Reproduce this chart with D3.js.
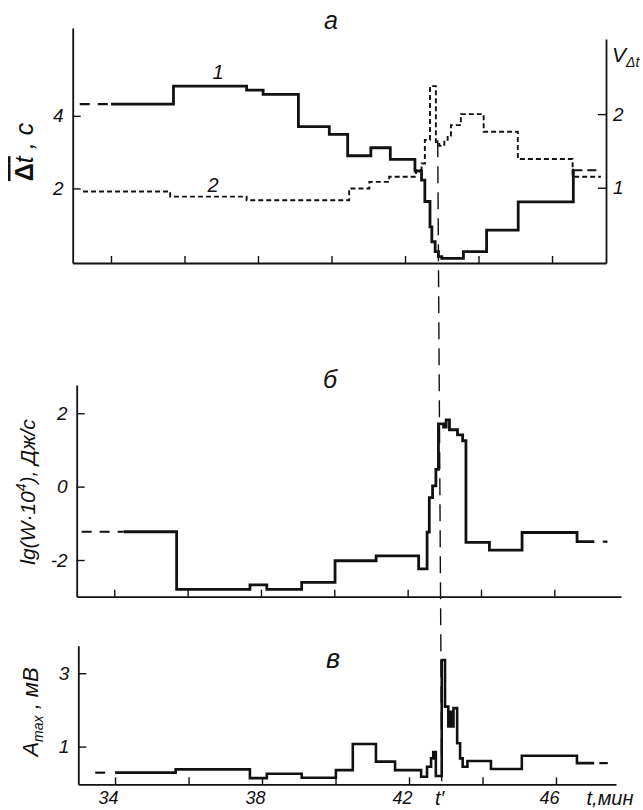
<!DOCTYPE html>
<html>
<head>
<meta charset="utf-8">
<script src="https://cdn.jsdelivr.net/npm/d3@7"></script>
<style>
  html, body { margin: 0; padding: 0; background: #fff; }
  svg { display: block; }
  text { font-family: "Liberation Sans", Arial, sans-serif; fill: #111; }
</style>
</head>
<body>
<script>
// ---------------- DATA ----------------
const xTicks = [34, 36, 38, 40, 42, 44, 46];
const xTickLabels = { 34: "34", 38: "38", 42: "42", 46: "46" };
const tPrime = 42.89;

// panel a, curve 1 : mean Δt, s (left axis), step starts
const dtTimes  = [34.0, 35.70, 37.69, 38.14, 39.10, 39.94, 40.44, 41.07, 41.60, 42.27, 42.45, 42.54, 42.68, 42.73, 42.82, 42.91, 43.00, 43.59, 44.22, 45.08, 46.58];
const dtValues = [4.32, 4.82, 4.71, 4.59, 3.70, 3.49, 2.90, 3.12, 2.80, 2.48, 2.23, 1.64, 0.94, 0.53, 0.26, 0.12, 0.07, 0.26, 0.85, 1.63, 2.50];
const dtLead = [33.15, 34.0];
const dtTail = [46.58, 47.33];

// panel a, curve 2 : V_Δt (right axis)
const vTimes  = [33.24, 35.61, 37.69, 40.48, 41.03, 41.57, 42.30, 42.45, 42.54, 42.68, 42.84, 42.93, 43.07, 43.16, 43.25, 43.52, 44.14, 45.07, 46.56];
const vValues = [0.95, 0.88, 0.83, 0.99, 1.08, 1.15, 1.24, 1.33, 1.65, 2.38, 1.62, 1.57, 1.65, 1.71, 1.85, 2.00, 1.76, 1.39, 1.15];
const vEnd = 47.33;

// panel б : lg(W·10^4), J/s
const wTimes  = [34.25, 35.70, 37.70, 38.16, 39.11, 40.02, 41.14, 42.30, 42.53, 42.59, 42.68, 42.77, 42.84, 42.98, 43.05, 43.14, 43.36, 43.50, 43.59, 44.23, 45.12, 46.62];
const wValues = [-1.23, -2.80, -2.68, -2.80, -2.61, -2.02, -1.89, -2.24, -1.24, -0.30, 0.02, 0.47, 1.71, 1.62, 1.82, 1.55, 1.41, 1.25, -1.52, -1.73, -1.25, -1.50];
const wEnd = 47.09;
const wLead = [33.11, 34.25];
const wTail = [47.32, 47.45];

// panel в : A_max, mV
const aTimes  = [34.0, 35.65, 37.67, 38.13, 39.08, 40.01, 40.47, 41.10, 41.62, 42.33, 42.49, 42.60, 42.66, 42.73, 42.89, 42.98, 43.07, 43.10, 43.13, 43.16, 43.19, 43.21, 43.31, 43.39, 43.46, 43.59, 44.23, 45.07, 46.57];
const aValues = [0.29, 0.38, 0.14, 0.26, 0.15, 0.36, 1.07, 0.59, 0.36, 0.18, 0.45, 0.68, 0.85, 0.20, 3.36, 2.09, 1.55, 1.95, 1.55, 1.95, 1.55, 2.05, 1.09, 0.68, 0.45, 0.61, 0.39, 0.75, 0.55];
const aEnd = 47.04;
const aLead = [33.46, 33.73];
const aTail = [47.18, 47.41];

const dtTicks = [2, 4];
const vTicks = [1, 2];
const wTicks = [-2, 0, 2];
const aTicks = [1, 3];

// ---------------- DRAW ----------------
const svg = d3.select("body").append("svg").attr("width", 643).attr("height", 810);
const ink = "#111";

// scales
const xA = d3.scaleLinear().domain([32.958, 47.469]).range([72.7, 606]);
const xB = d3.scaleLinear().domain([32.975, 47.818]).range([76.7, 621]);
const xC = d3.scaleLinear().domain([33.0, 47.633]).range([78.3, 616]);

const yDt = d3.scaleLinear().domain([-0.055, 6.42]).range([263, 28]);
const yV  = d3.scaleLinear().domain([-0.022, 3.02]).range([263, 39]);
const yW  = d3.scaleLinear().domain([-3.0, 2.77]).range([596.7, 385]);
const yA  = d3.scaleLinear().domain([-0.027, 3.75]).range([784.3, 645.7]);

const fmt = d => d < 0 ? "-" + Math.abs(d) : String(d);

function styleAxis(g) {
  g.selectAll("path.domain").attr("stroke", ink).attr("stroke-width", 1.8);
  g.selectAll(".tick line").attr("stroke", ink).attr("stroke-width", 1.4);
  g.selectAll(".tick text").attr("font-size", 19).attr("font-style", "italic")
    .attr("font-family", "'Liberation Sans', Arial, sans-serif").attr("fill", ink);
}

function xAxis(x, yPix, labels) {
  const ax = d3.axisBottom(x).tickValues(xTicks).tickSizeInner(-7).tickSizeOuter(0)
    .tickPadding(7).tickFormat(d => labels ? (xTickLabels[d] || "") : "");
  const g = svg.append("g").attr("transform", `translate(0,${yPix})`).call(ax);
  styleAxis(g);
  g.selectAll(".tick text").attr("font-size", 18).attr("dx", -7);
  return g;
}
function yAxisLeft(y, xPix, ticks) {
  const ax = d3.axisLeft(y).tickValues(ticks).tickSizeInner(-8).tickSizeOuter(0)
    .tickPadding(9).tickFormat(fmt);
  const g = svg.append("g").attr("transform", `translate(${xPix},0)`).call(ax);
  styleAxis(g);
  return g;
}

// axes panel a
xAxis(xA, 263, false);
yAxisLeft(yDt, 72.7, dtTicks);
{
  const ax = d3.axisRight(yV).tickValues(vTicks).tickSizeInner(-8).tickSizeOuter(0)
    .tickPadding(7).tickFormat(fmt);
  const g = svg.append("g").attr("transform", "translate(606,0)").call(ax);
  styleAxis(g);
}
// axes panel б
xAxis(xB, 596.7, false);
yAxisLeft(yW, 76.7, wTicks);
// axes panel в
xAxis(xC, 784.3, true);
yAxisLeft(yA, 78.3, aTicks);

// step line helper
function stepPath(x, y, times, values, endT) {
  const pts = times.map((t, i) => [t, values[i]]);
  pts.push([endT, values[values.length - 1]]);
  return d3.line().x(d => x(d[0])).y(d => y(d[1])).curve(d3.curveStepAfter)(pts);
}
function seg(x, y, range, v) {
  return d3.line().x(d => x(d[0])).y(d => y(d[1]))([[range[0], v], [range[1], v]]);
}

// t' dashed line (drawn first, behind)
svg.append("line")
  .attr("x1", xA(tPrime)).attr("y1", yDt(3.33))
  .attr("x2", xC(tPrime)).attr("y2", yA(0))
  .attr("stroke", ink).attr("stroke-width", 1.4).attr("stroke-dasharray", "17,9");

// panel a, curve 2 (dotted)
svg.append("path").attr("d", stepPath(xA, yV, vTimes, vValues, vEnd))
  .attr("fill", "none").attr("stroke", ink).attr("stroke-width", 1.9)
  .attr("stroke-dasharray", "5,3");

// panel a, curve 1
svg.append("path").attr("d", seg(xA, yDt, dtLead, dtValues[0]))
  .attr("fill", "none").attr("stroke", ink).attr("stroke-width", 2.2).attr("stroke-dasharray", "10,8");
svg.append("path").attr("d", stepPath(xA, yDt, dtTimes, dtValues, 46.60))
  .attr("fill", "none").attr("stroke", ink).attr("stroke-width", 2.8);
svg.append("path").attr("d", seg(xA, yDt, dtTail, dtValues[dtValues.length - 1]))
  .attr("fill", "none").attr("stroke", ink).attr("stroke-width", 2).attr("stroke-dasharray", "9,5");

// panel б
svg.append("path").attr("d", seg(xB, yW, wLead, wValues[0]))
  .attr("fill", "none").attr("stroke", ink).attr("stroke-width", 2.2).attr("stroke-dasharray", "10,8");
svg.append("path").attr("d", stepPath(xB, yW, wTimes, wValues, wEnd))
  .attr("fill", "none").attr("stroke", ink).attr("stroke-width", 2.8);
svg.append("path").attr("d", seg(xB, yW, wTail, wValues[wValues.length - 1]))
  .attr("fill", "none").attr("stroke", ink).attr("stroke-width", 2.2);

// panel в
svg.append("path").attr("d", seg(xC, yA, aLead, aValues[0]))
  .attr("fill", "none").attr("stroke", ink).attr("stroke-width", 2.2);
svg.append("path").attr("d", stepPath(xC, yA, aTimes, aValues, aEnd))
  .attr("fill", "none").attr("stroke", ink).attr("stroke-width", 2.6);
svg.append("path").attr("d", seg(xC, yA, aTail, aValues[aValues.length - 1]))
  .attr("fill", "none").attr("stroke", ink).attr("stroke-width", 2.2);

// ---------------- TEXT ----------------
function label(x, y, txt, size, opts = {}) {
  const t = svg.append("text").attr("x", x).attr("y", y).attr("font-size", size)
    .attr("font-style", opts.italic === false ? "normal" : "italic")
    .attr("text-anchor", opts.anchor || "middle").attr("fill", ink)
    .attr("font-family", opts.family || "'Liberation Sans', Arial, sans-serif");
  if (opts.transform) t.attr("transform", opts.transform);
  t.text(txt);
  return t;
}

// panel letters
label(331, 29, "а", 25, { family: "'Liberation Serif', serif" });
label(330, 388, "б", 25, { family: "'Liberation Serif', serif" });
label(333, 668, "в", 27, { family: "'Liberation Serif', serif" });

// curve numbers
label(218, 79, "1", 20);
label(213, 192, "2", 20);

// x-axis extra labels
label(xC(tPrime) - 2, 805, "t′", 20);
label(610, 805, "t,мин", 20);

// top-left y label: Δt (overlined), c
{
  const t = svg.append("text").attr("transform", "translate(33,152) rotate(-90)")
    .attr("text-anchor", "middle").attr("font-size", 25).attr("fill", ink);
  t.append("tspan").attr("font-weight", "bold").style("text-decoration", "overline").text("Δ");
  t.append("tspan").attr("font-style", "italic").style("text-decoration", "overline").text("t");
  t.append("tspan").attr("font-style", "italic").text(" , c");
}
// right label V_Δt
{
  const t = svg.append("text").attr("x", 612).attr("y", 62).attr("font-size", 21)
    .attr("font-style", "italic").attr("fill", ink);
  t.append("tspan").text("V");
  t.append("tspan").attr("font-size", 14).attr("dy", 5).text("Δt");
}
// middle label
{
  const t = svg.append("text").attr("transform", "translate(35,492) rotate(-90)")
    .attr("text-anchor", "middle").attr("font-size", 21).attr("font-style", "italic").attr("fill", ink);
  t.append("tspan").text("lg(W·10");
  t.append("tspan").attr("font-size", 14).attr("dy", -9).text("4");
  t.append("tspan").attr("dy", 9).text("), Дж/с");
}
// bottom label
{
  const t = svg.append("text").attr("transform", "translate(38,712) rotate(-90)")
    .attr("text-anchor", "middle").attr("font-size", 22).attr("font-style", "italic").attr("fill", ink);
  t.append("tspan").text("A");
  t.append("tspan").attr("font-size", 14).attr("dy", 5).text("max");
  t.append("tspan").attr("dy", -5).text(" , мВ");
}
</script>
</body>
</html>
